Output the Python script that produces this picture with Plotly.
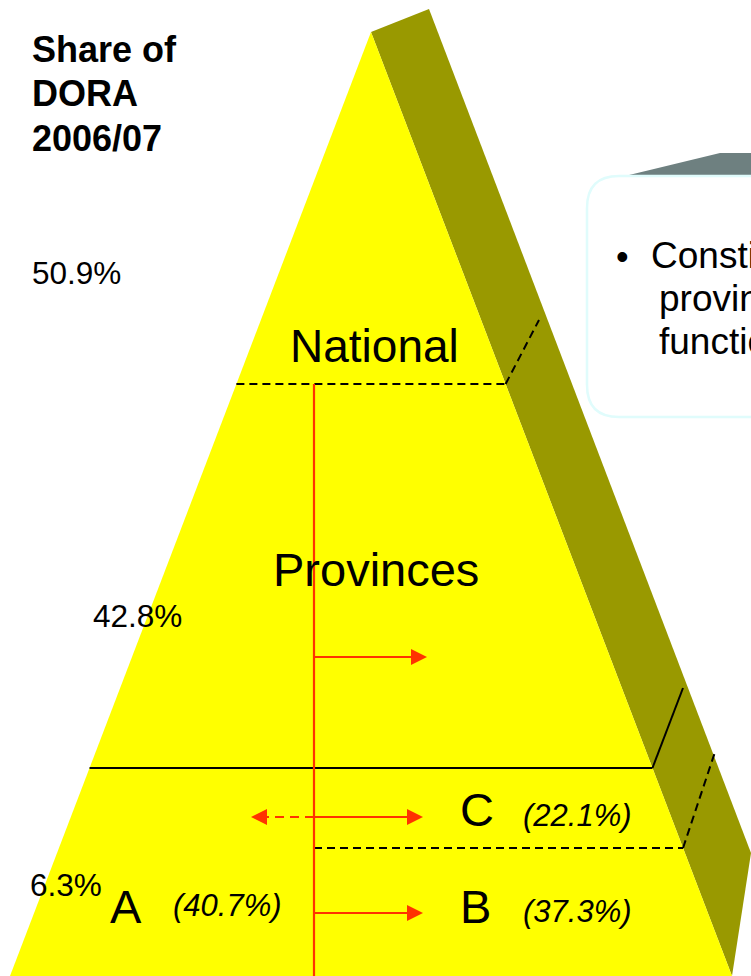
import plotly.graph_objects as go

# ---------------- data ----------------
title_lines = ["Share of", "DORA", "2006/07"]
dora_share_labels = ["50.9%", "42.8%", "6.3%"]
tier_labels = ["National", "Provinces"]
segment_labels = ["A", "B", "C"]
segment_shares = ["(40.7%)", "(37.3%)", "(22.1%)"]
callout_lines = ["Constitution", "provinces", "functions"]

# ---------------- layout geometry (pixels) ----------------
W, H = 751, 976
APEX = (371, 32)
BASE_L, BASE_R = 10, 732
SIDE_TOP = (429, 9)
SIDE_OUT = (751, 853)

YELLOW = "#FFFF00"
OLIVE = "#999900"
RED = "#FF3300"
FONT = "Arial, Liberation Sans, Helvetica, sans-serif"


def left_x(y):
    return APEX[0] - (APEX[0] - BASE_L) * (y - APEX[1]) / (H - APEX[1])


def right_x(y):
    return APEX[0] + (BASE_R - APEX[0]) * (y - APEX[1]) / (H - APEX[1])


def poly(pts):
    return "M " + " L ".join(f"{x},{y}" for x, y in pts) + " Z"


shapes = []


def add_path(path, fill, line_color=None, width=0):
    shapes.append(dict(type="path", path=path, xref="x", yref="y",
                       fillcolor=fill, line=dict(color=line_color or fill, width=width),
                       layer="above"))


def add_line(x0, y0, x1, y1, color="black", width=2, dash="solid"):
    shapes.append(dict(type="line", x0=x0, y0=y0, x1=x1, y1=y1, xref="x", yref="y",
                       line=dict(color=color, width=width, dash=dash), layer="above"))


def arrow(x0, x1, y, dash="solid"):
    d = 1 if x1 > x0 else -1
    head = 16
    add_line(x0, y, x1 - d * head, y, RED, 2.2, dash)
    add_path(poly([(x1, y), (x1 - d * head, y - 8), (x1 - d * head, y + 8)]), RED)


# side face and front face
add_path(poly([APEX, SIDE_TOP, SIDE_OUT, (BASE_R, H)]), OLIVE)
add_path(poly([APEX, (BASE_R, H), (BASE_L, H)]), YELLOW)

# callout box (3D top + rounded rectangle)
add_path(poly([(625, 176), (720, 153), (780, 153), (780, 176)]), "#6E8080")
bx0, by0, bx1, by1, r = 587, 176, 900, 417, 32
box = (f"M {bx0 + r},{by0} L {bx1},{by0} L {bx1},{by1} L {bx0 + r},{by1} "
       f"Q {bx0},{by1} {bx0},{by1 - r} L {bx0},{by0 + r} Q {bx0},{by0} {bx0 + r},{by0} Z")
shapes.append(dict(type="path", path=box, xref="x", yref="y", fillcolor="white",
                   line=dict(color="#E0FCFC", width=2.5), layer="above"))

# tier boundary lines
DASH = "8px,5px"
y_nat = 384
add_line(left_x(y_nat), y_nat, right_x(y_nat), y_nat, dash=DASH)
add_line(right_x(y_nat), y_nat, 539, 320, dash=DASH)
y_prov = 768
add_line(left_x(y_prov), y_prov, right_x(y_prov), y_prov, width=2)
add_line(right_x(y_prov), y_prov, 683, 688, width=2)
y_cb = 848
add_line(314, y_cb, right_x(y_cb), y_cb, dash=DASH)
add_line(right_x(y_cb), y_cb, 715, 752, dash=DASH)

# red flow lines
add_line(314, y_nat, 314, H, RED, 2.2)
arrow(314, 427, 657)
arrow(314, 423, 817)
arrow(314, 251, 817, dash="9px,6px")
arrow(314, 423, 913)

annotations = []


def label(x, y, text, size, xanchor="left", bold=False, italic=False):
    t = text
    if bold:
        t = f"<b>{t}</b>"
    if italic:
        t = f"<i>{t}</i>"
    annotations.append(dict(x=x, y=y, xref="x", yref="y", text=t, showarrow=False,
                            xanchor=xanchor, yanchor="middle",
                            font=dict(family=FONT, size=size, color="black")))


for i, line in enumerate(title_lines):
    label(30, 49 + i * 44.5, line, 36, bold=True)

label(30, 273, dora_share_labels[0], 31.5)
label(91, 616, dora_share_labels[1], 31.5)
label(28, 885, dora_share_labels[2], 31.5)

label(374, 346, tier_labels[0], 46, xanchor="center")
label(376, 569, tier_labels[1], 47, xanchor="center")

label(108, 906, segment_labels[0], 47)
label(171, 905, segment_shares[0], 31, italic=True)
label(458, 906, segment_labels[1], 47)
label(521, 911, segment_shares[1], 31, italic=True)
label(458, 809, segment_labels[2], 47)
label(521, 815, segment_shares[2], 31, italic=True)

label(614, 256, "•", 36)
label(649, 255, callout_lines[0], 37)
label(657, 298, callout_lines[1], 37)
label(657, 341, callout_lines[2], 37)

fig = go.Figure(go.Scatter(x=[0], y=[0], mode="markers", marker=dict(opacity=0),
                           hoverinfo="skip", showlegend=False))
fig.update_layout(width=W, height=H, margin=dict(l=0, r=0, t=0, b=0),
                  paper_bgcolor="white", plot_bgcolor="white",
                  shapes=shapes, annotations=annotations, showlegend=False)
fig.update_xaxes(range=[0, W], visible=False, fixedrange=True)
fig.update_yaxes(range=[H, 0], visible=False, fixedrange=True)
fig.write_html("out.html", config={"displayModeBar": False},
               post_script="document.body.style.margin='0';document.body.style.overflow='hidden';")
